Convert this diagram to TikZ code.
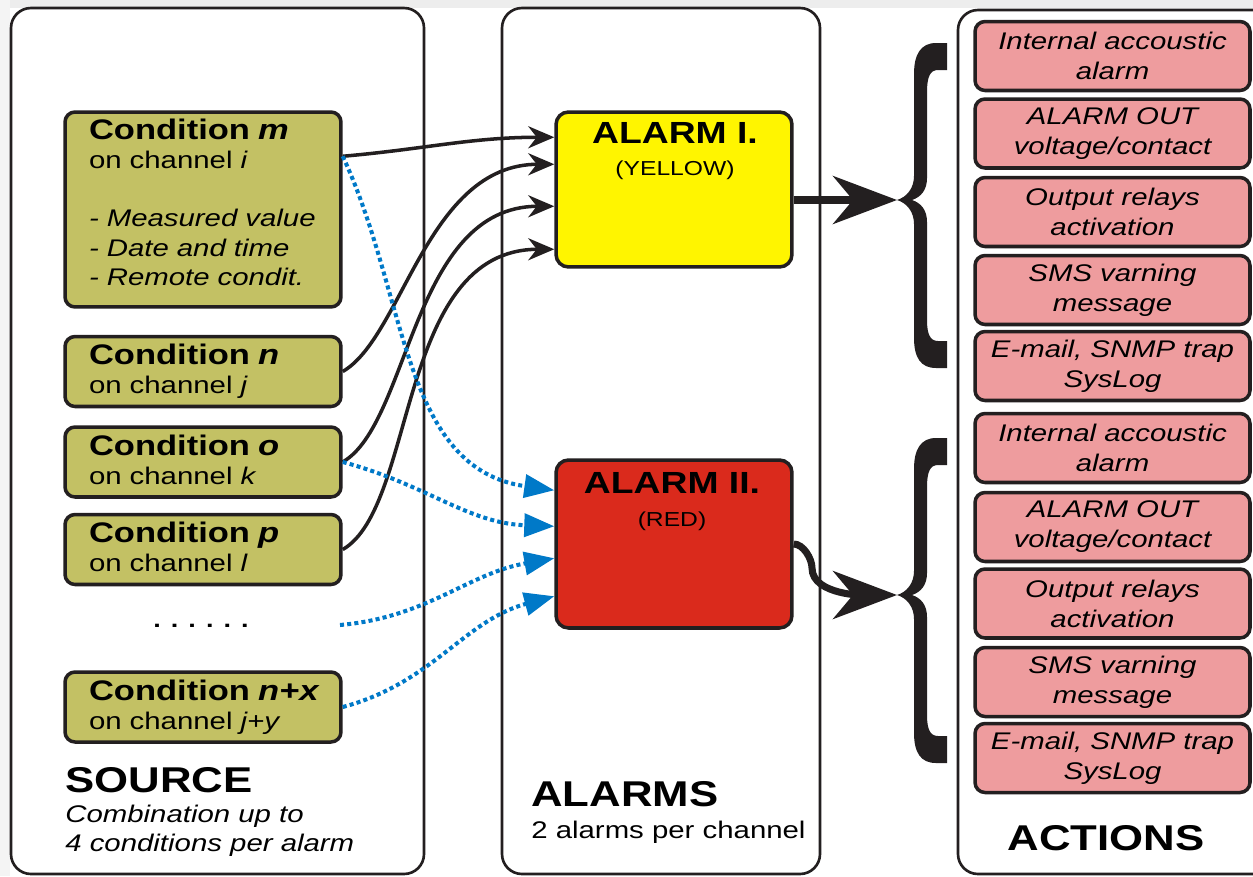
\documentclass[tikz,border=0pt]{standalone}
\usepackage{fontspec}
\setmainfont{Liberation Sans}[FakeStretch=1.22]
\usetikzlibrary{arrows.meta,calc}

\definecolor{linec}{HTML}{231F20}
\definecolor{olivec}{HTML}{C3C164}
\definecolor{yelc}{HTML}{FFF500}
\definecolor{redc}{HTML}{DA2A1C}
\definecolor{pinkc}{HTML}{EE9C9E}
\definecolor{bluec}{HTML}{0079C8}
\definecolor{bgc}{HTML}{EDEDED}

\newcommand{\condhead}[1]{\mbox{\bfseries\fontsize{16.1}{16.6}\selectfont Condition \textit{#1}}}
\newcommand{\lastdp}[1]{\rule[-#1]{0pt}{#1}}
\newcommand{\actbrace}[1]{%
  \fill[linec,shift={(0,#1)}] (947,43) -- (947,70) -- (938,70)
    .. controls (930,70) and (927,77) .. (927,92) -- (927,178)
    .. controls (927,190) and (921,197) .. (912,200)
    .. controls (921,203) and (927,210) .. (927,222) -- (927,320)
    .. controls (927,334) and (930,341) .. (938,341) -- (947,341) -- (947,368) -- (936,368)
    .. controls (921,368) and (914,358) .. (914,338) -- (914,224)
    .. controls (914,212) and (907,203) .. (897,200)
    .. controls (907,197) and (914,188) .. (914,176) -- (914,74)
    .. controls (914,54) and (921,43) .. (936,43) -- cycle;}

\begin{document}
\begin{tikzpicture}[x=0.02cm,y=-0.02cm,
  panel/.style={draw=linec,line width=1.5pt,rounded corners=0.4cm},
  cond/.style={draw=linec,fill=olivec,line width=2pt,rounded corners=0.2cm,
    minimum width=5.52cm,minimum height=1.4cm,text width=4.56cm,inner xsep=0.48cm,
    align=left,font=\fontsize{13.7}{16.6}\selectfont},
  alarm/.style={draw=linec,line width=2pt,rounded corners=0.25cm,minimum width=4.72cm},
  act/.style={draw=linec,fill=pinkc,line width=2pt,rounded corners=0.2cm,
    minimum width=5.5cm,minimum height=1.38cm,align=center,
    font=\itshape\fontsize{13.7}{17}\selectfont},
  feed/.style={draw=linec,line width=2pt,-{Stealth[length=0.52cm,width=0.44cm]}},
  link/.style={draw=bluec,line width=2.3pt,dash pattern=on 2.3pt off 1.8pt,
    -{Triangle[length=0.6cm,width=0.46cm]}},
  outarrow/.style={draw=linec,line width=4pt,-{Stealth[length=1.28cm,width=0.96cm,inset=0.4cm]}},
  big/.style={font=\bfseries\fontsize{20.4}{24}\selectfont,inner sep=0pt},
  note/.style={font=\fontsize{13.7}{16.6}\selectfont,inner sep=0pt,align=left}]
\clip (0,0) rectangle (1253,876);
\fill[white] (0,0) rectangle (1253,876);
\fill[bgc] (0,0) rectangle (1253,8);
\fill[bgc!60] (0,0) rectangle (10,876);

% panels
\draw[panel] (11,8) rectangle (424,874);
\draw[panel] (502,8) rectangle (820,874);
\draw[panel] (958,10) rectangle (1290,874);

% source
\node[cond,minimum height=3.9cm] (cm) at (203,209.5)
  {\condhead{m}\\ on channel \textit{i}\\[16.6pt]
   \textit{- Measured value}\\ \textit{- Date and time}\\ \textit{- Remote condit.}\lastdp{0.3cm}};
\node[cond] (cn) at (203,371.5) {\condhead{n}\\ on channel \textit{j}\lastdp{0.1cm}};
\node[cond] (co) at (203,462) {\condhead{o}\\ on channel \textit{k}\lastdp{0.1cm}};
\node[cond] (cp) at (203,549.5) {\condhead{p}\\ on channel \textit{l}\lastdp{0.1cm}};
\node[font=\bfseries\fontsize{12.6}{16.6}\selectfont] (dots) at (201,626) {. . . . . .};
\coordinate (dx) at (340,625);
\node[cond] (cx) at (203,707) {\condhead{n+x}\\ on channel \textit{j+y}\lastdp{0.1cm}};

\node[big,anchor=base west] (src) at (65,792) {SOURCE};
\node[note,anchor=north west,font=\itshape\fontsize{13.7}{16.6}\selectfont] (srcn) at (65,805)
  {Combination up to\\4 conditions per alarm};

% alarms
\node[alarm,fill=yelc,minimum height=3.1cm] (a1) at (674,189.5) {};
\node[font=\bfseries\fontsize{17.4}{20}\selectfont,anchor=base] (a1t) at (675,143) {ALARM I.};
\node[font=\fontsize{11.5}{14}\selectfont,anchor=base] (a1c) at (675,175) {(YELLOW)};
\node[alarm,fill=redc,minimum height=3.36cm] (a2) at (674,544) {};
\node[font=\bfseries\fontsize{17.4}{20}\selectfont,anchor=base] (a2t) at (672,493) {ALARM II.};
\node[font=\fontsize{11.5}{14}\selectfont,anchor=base] (a2c) at (672,526) {(RED)};

\node[big,anchor=base west] (alm) at (531,806) {ALARMS};
\node[note,anchor=base west] (almn) at (531,838) {2 alarms per channel};

% actions
\node[act] (b11) at (1112.5,56) {Internal accoustic\\alarm};
\node[act] (b12) at (1112.5,133.5) {ALARM OUT\\voltage/contact};
\node[act] (b13) at (1112.5,212) {Output relays\\activation};
\node[act] (b14) at (1112.5,290) {SMS varning\\message};
\node[act] (b15) at (1112.5,366) {E-mail, SNMP trap\\SysLog};
\node[act] (b21) at (1112.5,448) {Internal accoustic\\alarm};
\node[act] (b22) at (1112.5,527) {ALARM OUT\\voltage/contact};
\node[act] (b23) at (1112.5,603.5) {Output relays\\activation};
\node[act] (b24) at (1112.5,682) {SMS varning\\message};
\node[act] (b25) at (1112.5,758) {E-mail, SNMP trap\\SysLog};

\node[big,anchor=base] (actl) at (1106,850) {ACTIONS};

\actbrace{0}
\actbrace{395}
\coordinate (t1) at (897,200);
\coordinate (t2) at (897,595);

% connectors
\draw[feed] ($(cm.north east)+(0,46)$) to[out=5,in=180] ($(a1.north west)+(0,27)$);
\draw[feed] (cn.east) to[out=30,in=180,out looseness=0.6,in looseness=1.1] ($(a1.north west)+(0,54)$);
\draw[feed] (co.east) to[out=30,in=180,out looseness=0.6,in looseness=1.1] ($(a1.north west)+(0,96)$);
\draw[feed] (cp.east) to[out=30,in=180,out looseness=0.6,in looseness=1.1] ($(a1.north west)+(0,139)$);

\draw[link] ($(cm.north east)+(0,46)$) to[out=-65,in=172] ($(a2.north west)+(0,32)$);
\draw[link] (co.east) to[out=-15,in=178] ($(a2.north west)+(0,68)$);
\draw[link] (dx) to[out=5,in=190] ($(a2.north west)+(0,100)$);
\draw[link] (cx.east) to[out=15,in=195] ($(a2.north west)+(0,138)$);

\draw[outarrow] (a1.east |- t1) -- (t1);
\draw[outarrow] (a2.east) to[out=0,in=90,looseness=0.8] (812,568) to[out=-90,in=180,looseness=0.8] (t2);
\end{tikzpicture}
\end{document}
